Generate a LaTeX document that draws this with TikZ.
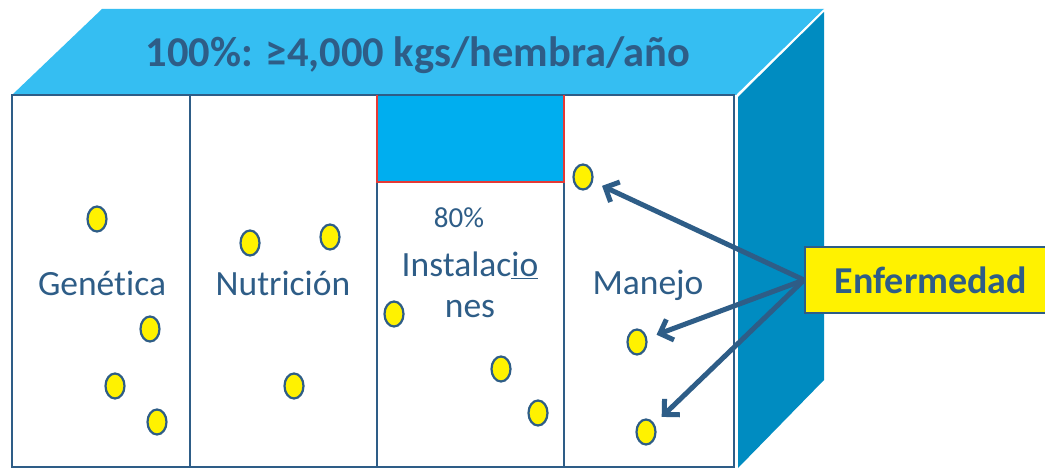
\documentclass[tikz,border=0pt]{standalone}
\usepackage{fontspec}
\setmainfont[Ligatures=NoCommon]{Carlito}
\usetikzlibrary{arrows.meta,shapes.geometric}
\definecolor{topblue}{HTML}{35BEF2}
\definecolor{sideblue}{HTML}{008CC1}
\definecolor{midblue}{HTML}{00AEEF}
\definecolor{inkblue}{HTML}{2E5D87}
\definecolor{redline}{HTML}{E53935}
\tikzset{
  dot/.style={ellipse, draw=inkblue, line width=2.2pt, fill=yellow,
    minimum width=19pt, minimum height=25pt, inner sep=0pt},
  col/.style={draw=inkblue, line width=2.5pt},
  lbl/.style={text=inkblue, font=\fontsize{35.5}{41}\selectfont, inner sep=0pt},
  hit/.style={->, draw=inkblue, line width=5pt, shorten >=10pt}
}
\begin{document}
\begin{tikzpicture}[x=1pt, y=-1pt, >={Straight Barb[length=11pt, width=22pt]}]
            \clip (0,0) rectangle (1045,468);
            \fill[white] (0,0) rectangle (1045,468);

            \fill[topblue] (12,95) -- (102,9) -- (824,9) -- (737,95) -- cycle;
            \fill[sideblue] (738,97) -- (824,12) -- (824,380) -- (738,468) -- cycle;
            \draw[white, line width=1.2pt] (737,95) -- (824,10);

            \fill[midblue] (377,96) rectangle (564,182);
            \draw[col] (12,95) rectangle (190,467);
            \draw[col] (190,95) rectangle (377,467);
            \draw[col] (377,95) rectangle (564,467);
            \draw[col] (564,95) rectangle (734,467);
            \draw[redline, line width=2.2pt] (377,95) -- (377,182) -- (564,182) -- (564,95);

            \node[text=inkblue, font=\bfseries\fontsize{42.5}{46}\selectfont] (title) at (418,55)
                {100\%: ≥4,000 kgs/hembra/año};

            \node[lbl] (gen) at (102,283) {Genética};
            \node[lbl] (nut) at (283,283) {Nutrición};
            \node[lbl, font=\fontsize{29}{33}\selectfont] (pct) at (459,218) {80\%};
            \node[lbl, align=center] (ins) at (470,285) {Instalac\underline{io}\\nes};
            \node[lbl] (man) at (648,285) {Manejo};

            \node[dot] (g1) at (97,219) {};
            \node[dot] (g2) at (150,329) {};
            \node[dot] (g3) at (115,386) {};
            \node[dot] (g4) at (157,422) {};
            \node[dot] (n1) at (250,243) {};
            \node[dot] (n2) at (330,237) {};
            \node[dot] (n3) at (294,386) {};
            \node[dot] (i1) at (394,314) {};
            \node[dot] (i2) at (501,369) {};
            \node[dot] (i3) at (538,413) {};
            \node[dot] (m1) at (583,177) {};
            \node[dot] (m2) at (637,342) {};
            \node[dot] (m3) at (646,432) {};

            \node[draw=inkblue, line width=2pt, fill=yellow, anchor=west,
                minimum width=252pt, minimum height=66pt, text=inkblue,
                font=\bfseries\fontsize{38}{42}\selectfont] (enf) at (804,280) {Enfermedad};

            \draw[hit] (enf.west) -- (m1);
            \draw[hit] (enf.west) -- (m2);
            \draw[hit] (enf.west) -- (m3);
        \end{tikzpicture}
\end{document}
